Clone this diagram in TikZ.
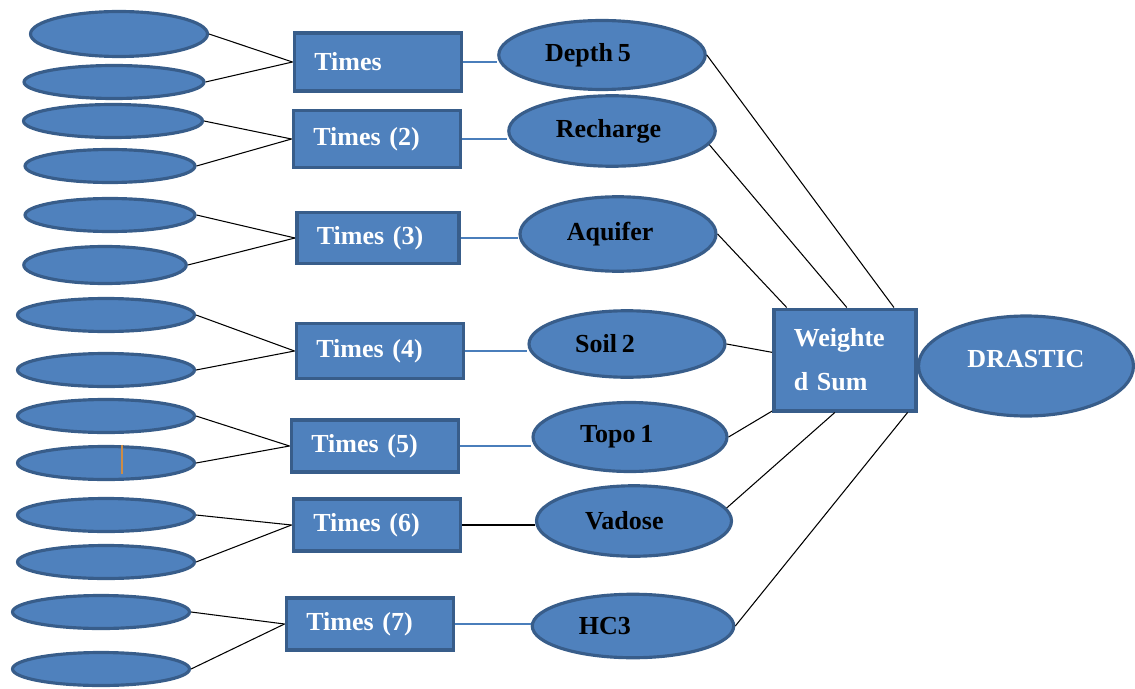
\documentclass[tikz,border=0pt]{standalone}
\usepackage{fontspec}
\setmainfont{Liberation Serif}[WordSpace=0.75]
\usetikzlibrary{shapes.geometric}
\definecolor{shapefill}{RGB}{79,129,189}
\definecolor{shapeedge}{RGB}{56,93,138}
\definecolor{linkblue}{RGB}{74,126,187}
\definecolor{tickorange}{RGB}{205,140,70}

\begin{document}
\begin{tikzpicture}[
    x=0.02cm, y=-0.02cm,
    line/.style = {draw, black, line width=0.6pt},
    link/.style = {draw, linkblue, line width=0.8pt},
    input/.style = {ellipse, draw=shapeedge, fill=shapefill, line width=1.8pt, minimum width=3.54cm, minimum height=0.66cm, inner sep=0pt},
    times/.style = {rectangle, draw=shapeedge, fill=shapefill, line width=2pt, text=white, font=\bfseries\fontsize{14.8}{18}\selectfont, inner xsep=0.4cm, inner ysep=0pt, text width=2.55cm, align=left, minimum height=1.04cm},
    factor/.style = {ellipse, draw=shapeedge, fill=shapefill, line width=1.8pt, text=black, font=\bfseries\fontsize{14.8}{18}\selectfont, inner sep=0pt, minimum width=4.1cm, minimum height=1.38cm},
    sum/.style = {rectangle, draw=shapeedge, fill=shapefill, line width=2pt, text=white, font=\bfseries\fontsize{14.8}{25}\selectfont, inner xsep=0.4cm, inner ysep=0pt, text width=2.05cm, align=left, minimum height=2.03cm},
    result/.style = {ellipse, draw=shapeedge, fill=shapefill, line width=1.8pt, text=white, font=\bfseries\fontsize{14.8}{18}\selectfont, inner sep=0pt, minimum width=4.3cm, minimum height=2.0cm}
  ]
  \useasboundingbox (0,0) rectangle (1135,689);

  % input ellipses, two per product
  \node (e1) [input, minimum height=0.9cm] at (119,34) {};
  \node (e2) [input, minimum width=3.6cm] at (114,82) {};
  \node (e3) [input, minimum width=3.58cm] at (113,121) {};
  \node (e4) [input, minimum width=3.4cm] at (110,166) {};
  \node (e5) [input, minimum width=3.4cm] at (110,215) {};
  \node (e6) [input, minimum width=3.25cm, minimum height=0.74cm] at (105,265) {};
  \node (e7) [input] at (106,315) {};
  \node (e8) [input] at (106,370) {};
  \node (e9) [input] at (106,416) {};
  \node (e10) [input] at (106,463) {};
  \node (e11) [input] at (106,515) {};
  \node (e12) [input] at (106,562) {};
  \node (e13) [input] at (101,612) {};
  \node (e14) [input] at (101,669) {};
  \draw[tickorange, line width=0.8pt] ([xshift=9.1pt]e10.north) -- ++(0,29);

  % products
  \node (t1) [times, minimum height=1.16cm] at (378,62) {Times};
  \node (t2) [times, minimum height=1.14cm] at (377,139) {Times (2)};
  \node (t3) [times, text width=2.45cm, minimum height=1.02cm] at (378,238) {Times (3)};
  \node (t4) [times, minimum height=1.1cm] at (380,351) {Times (4)};
  \node (t5) [times] at (375,446) {Times (5)};
  \node (t6) [times] at (377,525) {Times (6)};
  \node (t7) [times] at (370,624) {Times (7)};

  % factors (labels sit a little left of centre)
  \node (d5) [factor, minimum width=4.13cm] at (602,55) {Depth 5\hspace*{16pt}};
  \node (rc) [factor, minimum width=4.13cm, minimum height=1.41cm] at (612,131) {Recharge\hspace*{4pt}};
  \node (aq) [factor, minimum width=3.92cm, minimum height=1.49cm] at (618,234) {Aquifer\hspace*{9pt}};
  \node (so) [factor, minimum width=3.92cm, minimum height=1.33cm] at (627,344) {Soil 2\hspace*{25pt}};
  \node (tp) [factor, minimum width=3.88cm] at (630,437) {Topo 1\hspace*{15pt}};
  \node (vd) [factor, minimum width=3.9cm, minimum height=1.41cm] at (634,521) {Vadose\hspace*{11pt}};
  \node (hc) [factor, minimum width=4.03cm, minimum height=1.27cm] at (633,626) {HC3\hspace*{32pt}};

  \node (ws) [sum] at (845,360) {Weighte\\d Sum};
  \node (drastic) [result] at (1026,366) {\raisebox{8pt}{DRASTIC}};

  \begin{scope}[every path/.style=line]
    \path (e1.east) -- (t1.west);
    \path (e2.east) -- (t1.west);
    \path (e3.east) -- (t2.west);
    \path (e4.east) -- (t2.west);
    \path (e5.east) -- (t3.west);
    \path (e6.east) -- (t3.west);
    \path (e7.east) -- (t4.west);
    \path (e8.east) -- (t4.west);
    \path (e9.east) -- (t5.west);
    \path (e10.east) -- (t5.west);
    \path (e11.east) -- (t6.west);
    \path (e12.east) -- (t6.west);
    \path (e13.east) -- (t7.west);
    \path (e14.east) -- (t7.west);
    \path (t6.east) -- (t6.east -| vd.west);
    \path (d5.east) -- (ws.47);
    \path (rc.-8) -- (ws.88);
    \path (aq.east) -- (ws.138);
    \path (so.east) -- (ws.174);
    \path (tp.east) -- (ws.215);
    \path (vd.8) -- (ws.259);
    \path (hc.east) -- (ws.320);
  \end{scope}
  \begin{scope}[every path/.style=link]
    \path (t1.east) -- (t1.east -| d5.west);
    \path (t2.east) -- (t2.east -| rc.west);
    \path (t3.east) -- (t3.east -| aq.west);
    \path (t4.east) -- (t4.east -| so.west);
    \path (t5.east) -- (t5.east -| tp.west);
    \path (t7.east) -- (t7.east -| hc.west);
  \end{scope}
\end{tikzpicture}
\end{document}
